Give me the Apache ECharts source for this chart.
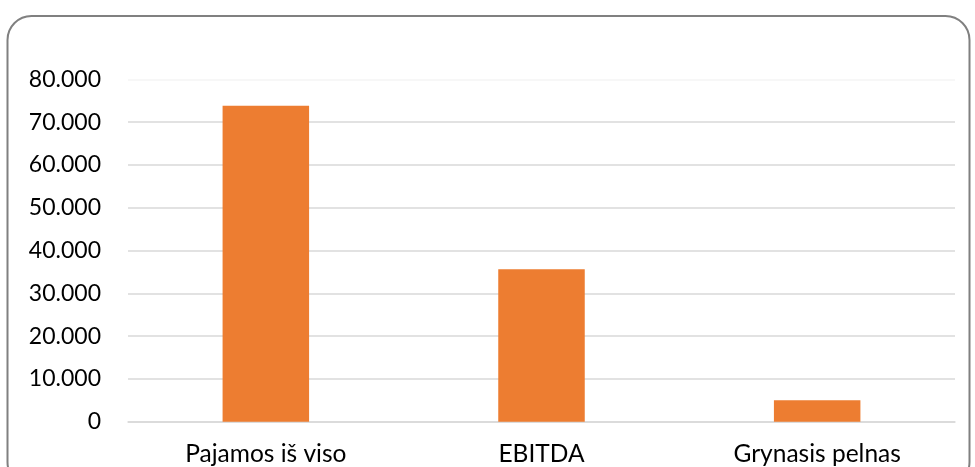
<!DOCTYPE html>
<html>
<head>
<meta charset="utf-8">
<script src="https://cdn.jsdelivr.net/npm/echarts@6/dist/echarts.min.js"></script>
<style>
html,body{margin:0;padding:0;background:#fff;}
#c{width:975px;height:467px;}
</style>
</head>
<body>
<div id="c"></div>
<script>
var categories = ['Pajamos iš viso', 'EBITDA', 'Grynasis pelnas'];
var values = [73800, 35600, 5000];
var yTicks = [0, 10000, 20000, 30000, 40000, 50000, 60000, 70000, 80000];

var chart = echarts.init(document.getElementById('c'), null, {renderer: 'canvas'});
var fmt = function (v) {
  return String(v).replace(/\B(?=(\d{3})+(?!\d))/g, '.');
};
chart.setOption({
  animation: false,
  graphic: [{
    type: 'rect',
    shape: {x: 7.5, y: 16, width: 962, height: 470, r: 24},
    style: {fill: 'none', stroke: '#808080', lineWidth: 2},
    silent: true,
    z: 100
  }],
  grid: {left: 128, right: 20, top: 79.3, bottom: 45.3, containLabel: false},
  xAxis: {
    type: 'category',
    data: categories,
    axisLine: {show: true, lineStyle: {color: '#d9d9d9', width: 1.5}},
    axisTick: {show: false},
    axisLabel: {color: '#000', fontFamily: 'Lato', fontSize: 24.5, margin: 20}
  },
  yAxis: {
    type: 'value',
    min: yTicks[0],
    max: yTicks[yTicks.length - 1],
    interval: 10000,
    axisLine: {show: false},
    axisTick: {show: false},
    splitLine: {lineStyle: {color: ['#d9d9d9','#d9d9d9','#d9d9d9','#d9d9d9','#d9d9d9','#d9d9d9','#d9d9d9','#d9d9d9','#f4f4f4'], width: 1.5}},
    axisLabel: {color: '#000', fontFamily: 'Lato', fontSize: 23, margin: 27, formatter: fmt}
  },
  series: [{
    type: 'bar',
    data: values,
    barWidth: 86.5,
    itemStyle: {color: '#ED7D31'}
  }]
});
</script>
</body>
</html>
